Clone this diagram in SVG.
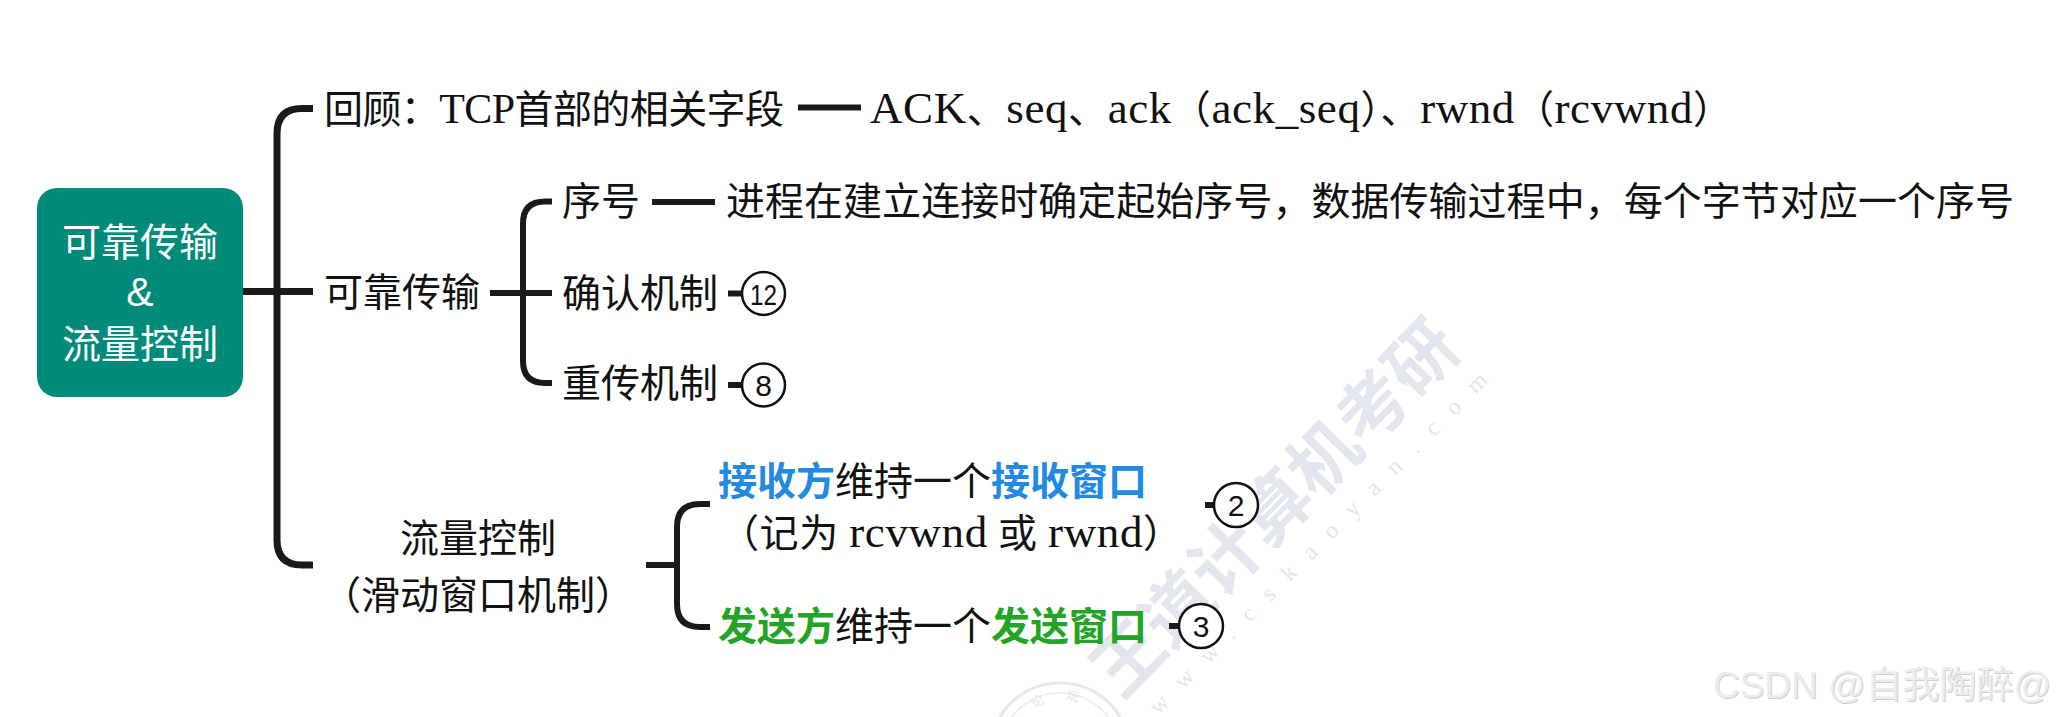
<svg xmlns="http://www.w3.org/2000/svg" width="2058" height="717" viewBox="0 0 2058 717">
<style>
.t{font-family:"Liberation Serif","Noto Sans CJK SC",serif;font-size:39px;fill:#111}
.cj{font-family:"Noto Sans CJK SC",sans-serif;font-size:39px;fill:#111}
.lat{font-size:45px}
.w{fill:#fff;font-family:"Noto Sans CJK SC","Liberation Sans",sans-serif;font-size:39px}
.ln{fill:none;stroke:#1a1a1a;stroke-width:7;stroke-linecap:butt;stroke-linejoin:round}
.ln2{fill:none;stroke:#1a1a1a;stroke-width:6}
.c{fill:#fff;stroke:#111;stroke-width:2.5}
.n{font-family:"Liberation Sans",sans-serif;font-size:30px;fill:#111;text-anchor:middle}
.blue{fill:#2289e5;font-weight:bold}
.green{fill:#22a526;font-weight:bold}
.wm{fill:#e4e6ef}
</style>
<rect width="2058" height="717" fill="#fff"/>
<g id="watermark">
  <text class="wm" transform="translate(1275,508) rotate(-45.7)" x="0" y="25" text-anchor="middle" style="font-family:'Noto Sans CJK SC',sans-serif;font-size:70px;font-weight:bold">王道计算机考研</text>
  <text class="wm" transform="translate(1318,543) rotate(-45.3)" x="0" y="8" text-anchor="middle" textLength="470" lengthAdjust="spacing" style="font-family:'Liberation Serif',serif;font-size:24px">www.cskaoyan.com</text>
  <circle cx="1060" cy="753" r="70" fill="none" stroke="#e6e8f0" stroke-width="3"/>
  <circle cx="1060" cy="753" r="60" fill="none" stroke="#e9ebf2" stroke-width="1.5"/>
  <text class="wm" x="1037" y="706" transform="rotate(-25 1037 701)" text-anchor="middle" style="font-family:'Noto Sans CJK SC',sans-serif;font-size:13px">论</text>
  <text class="wm" x="1073" y="701" transform="rotate(15 1073 696)" text-anchor="middle" style="font-family:'Noto Sans CJK SC',sans-serif;font-size:13px">坛</text>
  <text x="1883" y="699" text-anchor="middle" style="font-family:'Liberation Sans','Noto Sans CJK SC',sans-serif;font-size:37px;fill:#cfcfcf">CSDN @自我陶醉@</text>
  <text x="1882" y="698" text-anchor="middle" style="font-family:'Liberation Sans','Noto Sans CJK SC',sans-serif;font-size:37px;fill:#ececec">CSDN @自我陶醉@</text>
</g>
<g id="connectors">
  <path class="ln" d="M243,291.5 H313"/>
  <path class="ln" d="M313,108.5 H302 Q277,108.5 277,133.5 V540 Q277,565 302,565 H313"/>
  <path class="ln2" d="M798,107.5 H861"/>
  <path class="ln2" d="M490,293 H552"/>
  <path class="ln2" d="M552,201.5 H545 Q523,201.5 523,223.5 V361 Q523,383 545,383 H552"/>
  <path class="ln2" d="M652,202 H715"/>
  <path class="ln2" d="M728,293.5 H742"/>
  <path class="ln2" d="M728,385 H742"/>
  <path class="ln2" d="M646,565 H677"/>
  <path class="ln2" d="M710,504 H700 Q677,504 677,527 V604 Q677,627 700,627 H710"/>
  <path class="ln2" d="M1205,505 H1214"/>
  <path class="ln2" d="M1169,626 H1179"/>
</g>
<g id="root">
  <rect x="37" y="188" width="206" height="209" rx="20" fill="#008a79"/>
  <text class="w" x="140" y="256" text-anchor="middle">可靠传输</text>
  <text class="w" x="140" y="306" text-anchor="middle" style="font-family:'Liberation Sans',sans-serif;font-size:41px">&amp;</text>
  <text class="w" x="140" y="358" text-anchor="middle">流量控制</text>
</g>
<g id="review">
  <text class="t" x="324" y="123" textLength="460" lengthAdjust="spacing">回顾：<tspan style="font-size:42px">TCP</tspan>首部的相关字段</text>
</g>
<g id="review-fields">
  <text class="t" x="870" y="123" textLength="862" lengthAdjust="spacing"><tspan class="lat">ACK</tspan>、<tspan class="lat">seq</tspan>、<tspan class="lat">ack</tspan>（<tspan class="lat">ack_seq</tspan>）、<tspan class="lat">rwnd</tspan>（<tspan class="lat">rcvwnd</tspan>）</text>
</g>
<g id="reliable">
  <text class="cj" x="324" y="306">可靠传输</text>
</g>
<g id="seq">
  <text class="cj" x="562" y="215">序号</text>
</g>
<g id="seq-desc">
  <text class="cj" x="726" y="215" textLength="1288" lengthAdjust="spacing">进程在建立连接时确定起始序号，数据传输过程中，每个字节对应一个序号</text>
</g>
<g id="ack">
  <text class="cj" x="562" y="307">确认机制</text>
  <circle class="c" cx="763.5" cy="293.5" r="21.5"/>
  <text class="n" x="763.5" y="304.5" textLength="27" lengthAdjust="spacingAndGlyphs">12</text>
</g>
<g id="retrans">
  <text class="cj" x="562" y="397">重传机制</text>
  <circle class="c" cx="763.5" cy="385" r="21.5"/>
  <text class="n" x="763.5" y="396">8</text>
</g>
<g id="flow">
  <text class="cj" x="478" y="552" text-anchor="middle">流量控制</text>
  <text class="cj" x="478" y="609" text-anchor="middle">（滑动窗口机制）</text>
</g>
<g id="receiver">
  <text class="cj" x="718" y="495"><tspan class="blue">接收方</tspan>维持一个<tspan class="blue">接收窗口</tspan></text>
  <text class="t" x="720" y="547" textLength="462" lengthAdjust="spacing">（记为 <tspan class="lat">rcvwnd</tspan> 或 <tspan class="lat">rwnd</tspan>）</text>
  <circle class="c" cx="1236" cy="505" r="22"/>
  <text class="n" x="1236" y="516">2</text>
</g>
<g id="sender">
  <text class="cj" x="718" y="640"><tspan class="green">发送方</tspan>维持一个<tspan class="green">发送窗口</tspan></text>
  <circle class="c" cx="1201" cy="626" r="22"/>
  <text class="n" x="1201" y="637">3</text>
</g>
</svg>
